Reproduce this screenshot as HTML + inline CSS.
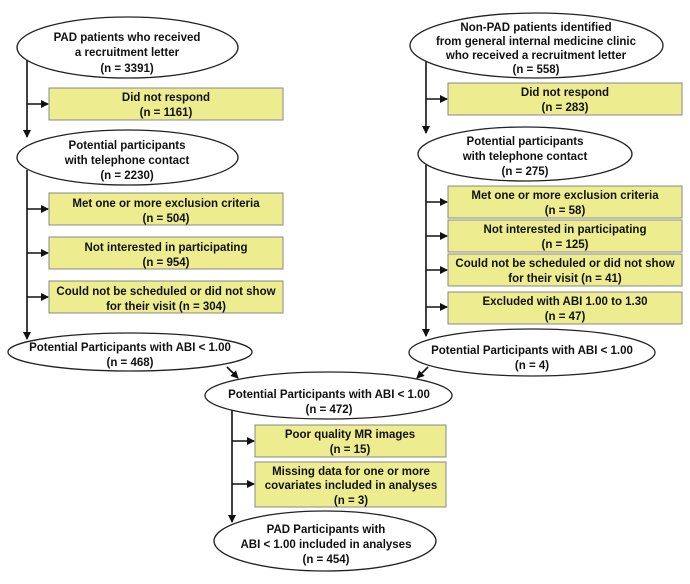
<!DOCTYPE html>
<html><head><meta charset="utf-8"><style>
body{margin:0;background:#fff}
svg text{font-family:"Liberation Sans",Arial,sans-serif;font-weight:bold;font-size:11.5px;fill:#111;text-anchor:middle}
</style></head><body>
<svg width="690" height="579" viewBox="0 0 690 579" xmlns="http://www.w3.org/2000/svg">
<defs><marker id="a" markerWidth="8" markerHeight="8" refX="7" refY="4" orient="auto" markerUnits="userSpaceOnUse"><path d="M0,0 L8,4 L0,8 z" fill="#111"/></marker></defs>
<g stroke="#111" stroke-width="1.6" fill="none">
<line x1="27" y1="58" x2="27" y2="137" marker-end="url(#a)"/>
<line x1="27" y1="104" x2="48" y2="104" marker-end="url(#a)"/>
<line x1="27" y1="170" x2="27" y2="339" marker-end="url(#a)"/>
<line x1="27" y1="209" x2="48" y2="209" marker-end="url(#a)"/>
<line x1="27" y1="253" x2="48" y2="253" marker-end="url(#a)"/>
<line x1="27" y1="297" x2="48" y2="297" marker-end="url(#a)"/>
<line x1="426" y1="62" x2="426" y2="133" marker-end="url(#a)"/>
<line x1="426" y1="99" x2="447" y2="99" marker-end="url(#a)"/>
<line x1="426" y1="165" x2="426" y2="336" marker-end="url(#a)"/>
<line x1="426" y1="202" x2="447" y2="202" marker-end="url(#a)"/>
<line x1="426" y1="236" x2="447" y2="236" marker-end="url(#a)"/>
<line x1="426" y1="270" x2="447" y2="270" marker-end="url(#a)"/>
<line x1="426" y1="307" x2="447" y2="307" marker-end="url(#a)"/>
<line x1="227" y1="367" x2="238" y2="378" marker-end="url(#a)"/>
<line x1="428" y1="367" x2="417" y2="378" marker-end="url(#a)"/>
<line x1="232" y1="410" x2="232" y2="522" marker-end="url(#a)"/>
<line x1="232" y1="441" x2="254" y2="441" marker-end="url(#a)"/>
<line x1="232" y1="484" x2="254" y2="484" marker-end="url(#a)"/>
</g>
<g stroke="#222" stroke-width="1.3" fill="#fff">
<ellipse cx="127.5" cy="47.5" rx="110.5" ry="30.5"/>
<ellipse cx="127.5" cy="157.5" rx="110.5" ry="27.5"/>
<ellipse cx="130" cy="352" rx="122" ry="19"/>
<ellipse cx="536.5" cy="45.5" rx="126.5" ry="32.5"/>
<ellipse cx="525" cy="154" rx="107" ry="27"/>
<ellipse cx="532" cy="352.5" rx="123" ry="23.5"/>
<ellipse cx="328.5" cy="395.5" rx="123.5" ry="23.5"/>
<ellipse cx="325" cy="541" rx="111" ry="30"/>
</g>
<g stroke="#888" stroke-width="1" fill="#eded90">
<rect x="49" y="88" width="234" height="32"/>
<rect x="49" y="193" width="234" height="32"/>
<rect x="49" y="237" width="234" height="32"/>
<rect x="49" y="281" width="234" height="32"/>
<rect x="448" y="83" width="234" height="32"/>
<rect x="448" y="186" width="234" height="32"/>
<rect x="448" y="220" width="234" height="32"/>
<rect x="448" y="254" width="234" height="32"/>
<rect x="448" y="292" width="234" height="32"/>
<rect x="255" y="425" width="191" height="32"/>
<rect x="255" y="462" width="191" height="45"/>
</g>
<text x="127" y="41">PAD patients who received</text>
<text x="127" y="56">a recruitment letter</text>
<text x="127" y="72">(n = 3391)</text>
<text x="166" y="101">Did not respond</text>
<text x="166" y="116">(n = 1161)</text>
<text x="127" y="149">Potential participants</text>
<text x="127" y="164">with telephone contact</text>
<text x="127" y="179">(n = 2230)</text>
<text x="166" y="207">Met one or more exclusion criteria</text>
<text x="166" y="222">(n = 504)</text>
<text x="166" y="251">Not interested in participating</text>
<text x="166" y="266">(n = 954)</text>
<text x="166" y="295">Could not be scheduled or did not show</text>
<text x="166" y="310">for their visit  (n = 304)</text>
<text x="130" y="351">Potential Participants with ABI &lt; 1.00</text>
<text x="130" y="366">(n = 468)</text>
<text x="536" y="31">Non-PAD patients identified</text>
<text x="536" y="45">from general internal medicine clinic</text>
<text x="536" y="59">who received a recruitment letter</text>
<text x="536" y="73">(n = 558)</text>
<text x="565" y="96">Did not respond</text>
<text x="565" y="111">(n = 283)</text>
<text x="525" y="145">Potential participants</text>
<text x="525" y="160">with telephone contact</text>
<text x="525" y="175">(n = 275)</text>
<text x="565" y="199">Met one or more exclusion criteria</text>
<text x="565" y="214">(n = 58)</text>
<text x="565" y="233">Not interested in participating</text>
<text x="565" y="248">(n = 125)</text>
<text x="565" y="267">Could not be scheduled or did not show</text>
<text x="565" y="282">for their visit (n = 41)</text>
<text x="565" y="305">Excluded with ABI 1.00 to 1.30</text>
<text x="565" y="320">(n = 47)</text>
<text x="532" y="354">Potential Participants with ABI &lt; 1.00</text>
<text x="532" y="369">(n = 4)</text>
<text x="329" y="398">Potential Participants with  ABI &lt; 1.00</text>
<text x="329" y="413">(n = 472)</text>
<text x="350" y="438">Poor quality MR images</text>
<text x="350" y="453">(n = 15)</text>
<text x="351" y="475">Missing data for one or more</text>
<text x="351" y="489">covariates included in analyses</text>
<text x="351" y="504">(n = 3)</text>
<text x="326" y="533">PAD Participants with</text>
<text x="326" y="548">ABI &lt; 1.00 included in analyses</text>
<text x="326" y="563">(n = 454)</text>
</svg>
</body></html>
